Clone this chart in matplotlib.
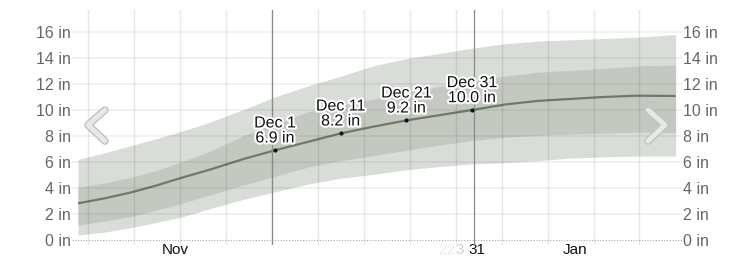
import matplotlib
matplotlib.use("Agg")
import matplotlib.pyplot as plt
import matplotlib.patheffects as pe
from matplotlib.lines import Line2D

# ---- data (days since Nov 1) ----
days = [0, 4, 8, 12, 16, 20, 25, 30, 35, 40, 45, 50, 55, 60, 65, 70, 75, 80, 85, 91]
median = [2.82, 3.2, 3.65, 4.2, 4.82, 5.4, 6.2, 6.9, 7.55, 8.2, 8.72, 9.2, 9.6, 10.0,
          10.42, 10.7, 10.85, 11.0, 11.1, 11.08]
outer_hi = [6.2, 6.7, 7.25, 7.8, 8.4, 9.05, 10.0, 11.0, 11.85, 12.6, 13.4, 13.95, 14.35,
            14.75, 15.1, 15.3, 15.4, 15.5, 15.6, 15.8]
outer_lo = [0.38, 0.6, 0.95, 1.35, 1.8, 2.4, 3.1, 3.7, 4.3, 4.75, 5.05, 5.4, 5.65, 5.85,
            5.95, 6.1, 6.3, 6.4, 6.45, 6.46]
inner_hi = [4.05, 4.4, 4.8, 5.35, 6.05, 6.8, 8.0, 8.95, 9.85, 10.4, 10.85, 11.35, 11.8,
            12.2, 12.6, 12.9, 13.05, 13.2, 13.38, 13.46]
inner_lo = [1.15, 1.45, 1.8, 2.3, 2.85, 3.45, 4.2, 4.9, 5.6, 6.1, 6.5, 6.9, 7.3, 7.65,
            7.9, 8.05, 8.15, 8.22, 8.3, 8.28]

mark_days = [30, 40, 50, 60]
mark_labels = ["Dec 1", "Dec 11", "Dec 21", "Dec 31"]
mark_values = [6.9, 8.2, 9.2, 10.0]

month_days = [14.8, 75.7]
month_labels = ["Nov", "Jan"]
yticks = [0, 2, 4, 6, 8, 10, 12, 14, 16]
ytick_labels = [f"{v} in" for v in yticks]

week_grid = [1.5 + 7 * k for k in range(13)]
dark_lines = [29.5, 60.3]

FONT = "Liberation Sans"
W, H = 753, 262
fig = plt.figure(figsize=(W / 100, H / 100), dpi=100)
ax = fig.add_axes([72 / W, 1 - 245 / H, (682 - 72) / W, (245 - 10) / H])
px_per_day = 6.567
ax.set_xlim((72 - 78) / px_per_day, (682 - 78) / px_per_day)
ax.set_ylim(-5 / 13, 230 / 13)

c_outer = "#d9ddd7"
c_inner = "#c3c9c0"
c_line = "#6c7b66"

ax.fill_between(days, outer_lo, outer_hi, color=c_outer, lw=0, zorder=1)
ax.fill_between(days, inner_lo, inner_hi, color=c_inner, lw=0, zorder=2)
ax.plot(days, median, color=c_line, lw=1.6, zorder=3, solid_capstyle="butt",
        solid_joinstyle="round")

# grid
for d in week_grid:
    ax.axvline(d, color=(0, 0, 0, 0.09), lw=1, zorder=4)
for d in dark_lines:
    ax.axvline(d, color="#8a8a8a", lw=0.9, zorder=4)
for v in yticks[1:]:
    ax.axhline(v, color=(0, 0, 0, 0.06), lw=1.2, zorder=4)
ax.axhline(0, color="#aaaaaa", lw=0.8, ls=(0, (1, 1.5)), zorder=4)

for s in ax.spines.values():
    s.set_visible(False)
ax.set_xticks([])
ax.set_yticks(yticks)
ax.set_yticklabels(ytick_labels)
ax.tick_params(axis="y", length=0, pad=1, labelsize=11.5, labelcolor="#666666",
               labelleft=True, labelright=True)
for lab in ax.get_yticklabels(which="both"):
    lab.set_fontfamily(FONT)

# markers + annotations
ax.scatter(mark_days, mark_values, s=9, color="#111111", zorder=6, lw=0)
for d, lab, v in zip(mark_days, mark_labels, mark_values):
    ax.annotate(f"{lab}\n{v:.1f} in", (d, v), xytext=(0, 3.5), textcoords="offset points",
                ha="center", va="bottom", fontsize=11.5, family=FONT, color="#111111",
                linespacing=1.0, zorder=7,
                path_effects=[pe.withStroke(linewidth=3, foreground="white")])

# x labels
tb = ax.get_xaxis_transform()
ylab = (245 - 250) / 235
for d, lab in zip(month_days, month_labels):
    ax.text(d, ylab, lab, transform=tb, ha="center", va="center", fontsize=11,
            family=FONT, color="#111111")
ax.text(dark_lines[1] + 0.5, ylab, "31", transform=tb, ha="center", va="center",
        fontsize=11, family=FONT, color="#111111")
ax.text(dark_lines[1] - 1.5, ylab, "3", transform=tb, ha="right", va="center",
        fontsize=11, family=FONT, color="#cfcfcf")
ax.text(dark_lines[1] - 2.8, ylab, "22", transform=tb, ha="right", va="center",
        fontsize=11, family=FONT, color="#ececec")

# navigation chevrons (figure pixel coords)
def chevron(xs, ys):
    ln = Line2D([x / W for x in xs], [1 - y / H for y in ys], transform=fig.transFigure,
                color="#e8e8e8", lw=3.5, solid_joinstyle="round", solid_capstyle="round",
                path_effects=[pe.Stroke(linewidth=5.5, foreground="#c2c2c2"), pe.Normal()])
    fig.add_artist(ln)

chevron([105, 88, 105], [110, 125, 141])
chevron([648, 665, 648], [110, 125, 141])

fig.savefig("out.png", dpi=100)
